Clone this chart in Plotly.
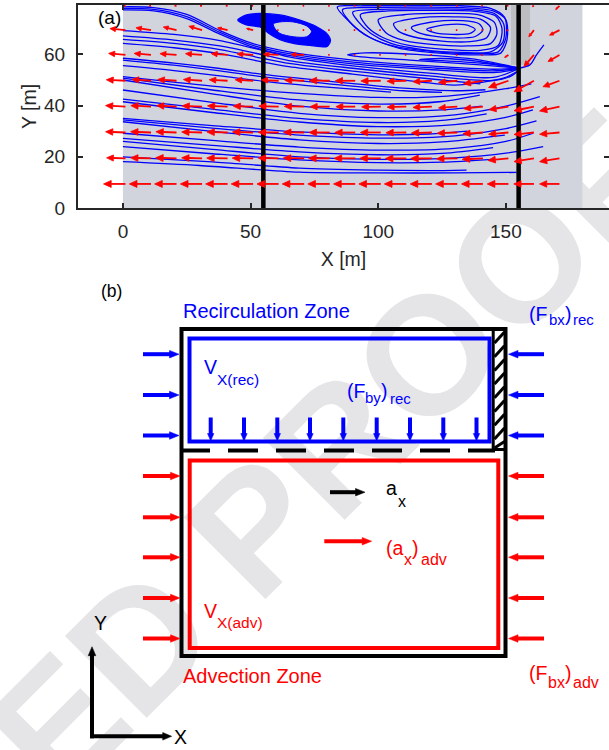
import math
import plotly.graph_objects as go

# ---------------- panel (a): velocity field ----------------
X_RANGE = [-17.6, 190.4]
Y_RANGE = [0, 79.3]
x_ticks = [0, 50, 100, 150]
y_ticks = [0, 20, 40, 60]

reach_x = [0, 180]                 # shaded reach
strip_x = [152.0, 159.5]           # darker strip near the downstream section
strip_y = [56.0, 79.3]
section_x = [55, 155]              # cross-sections

# quiver grid and components
quiver_x = [1, 11, 21, 31, 41, 51, 61, 71, 81, 91, 101, 111, 121, 131, 141, 151, 161, 171]
quiver_y = [9.4, 19.4, 29.5, 39.6, 49.7, 59.8, 69.5, 79.0]
quiver_u = [
    [-8.6, -8.5, -8.6, -8.5, -8.6, -8.6, -8.5, -8.6, -8.6, -8.5, -8.6, -8.6, -8.5, -8.5, -8.4, -8.3, -7.9, -7.8],
    [-7.4, -8.0, -8.2, -8.0, -8.2, -8.2, -8.0, -8.2, -8.3, -8.3, -8.2, -8.2, -8.3, -8.2, -8.1, -8.0, -7.8, -7.8],
    [-7.8, -8.0, -8.1, -8.0, -8.1, -8.1, -8.0, -8.1, -8.1, -8.0, -8.0, -8.0, -8.0, -7.9, -7.8, -7.8, -7.8, -7.8],
    [-7.8, -7.9, -7.8, -7.8, -7.9, -7.8, -7.8, -7.8, -7.7, -7.6, -7.5, -7.5, -7.4, -7.4, -7.5, -7.6, -7.8, -7.8],
    [-7.5, -7.5, -7.4, -7.3, -7.2, -7.0, -6.8, -7.6, -8.0, -7.8, -7.8, -7.6, -7.4, -7.4, -7.6, -7.8, -7.8, -6.5],
    [-6.6, -6.6, -6.5, -6.5, -6.4, -6.3, -6.0, -5.2, -0.6, -0.6, -0.6, -0.6, -0.6, -0.6, -0.7, -1.5, -3.9, -4.5],
    [-6.1, -5.9, -5.2, -5.2, -3.9, -2.6, -0.6, -0.6, -0.6, -0.6, -0.6, -0.6, -0.6, -0.6, -0.6, -0.7, -2.0, -3.9],
    [-0.6, -0.7, -0.8, -0.8, -0.7, -0.6, -0.6, -0.6, -0.6, -0.6, -0.6, -0.6, -0.6, -0.6, -0.6, -0.6, -0.7, -1.5],
]
quiver_v = [
    [0.0, 0.0, 0.0, 0.0, 0.0, 0.0, 0.0, 0.0, 0.0, 0.0, 0.0, 0.0, 0.0, 0.0, 0.0, 0.0, 0.0, 0.0],
    [0.2, 0.2, 0.2, 0.2, 0.1, 0.1, 0.1, 0.1, 0.0, 0.0, 0.0, -0.1, -0.1, -0.2, -0.4, -0.8, -1.3, -1.3],
    [0.3, 0.3, 0.3, 0.2, 0.2, 0.2, 0.1, 0.1, 0.0, 0.0, 0.0, -0.1, -0.2, -0.3, -0.5, -0.7, -0.8, -0.7],
    [0.4, 0.4, 0.4, 0.3, 0.3, 0.2, 0.2, 0.1, 0.0, 0.0, -0.1, -0.2, -0.3, -0.5, -0.8, -1.2, -1.6, -1.7],
    [0.4, 0.5, 0.5, 0.5, 0.4, 0.4, 0.3, 0.2, 0.1, 0.0, -0.1, -0.2, -0.4, -0.7, -1.2, -2.6, -4.3, -2.3],
    [0.6, 0.6, 0.5, 0.5, 0.5, 0.4, 0.3, 0.2, 0.0, 0.0, 0.0, 0.0, 0.0, 0.0, -0.1, -1.0, -4.5, -2.6],
    [0.6, 0.9, 1.2, 1.5, 0.9, 0.6, 0.0, 0.0, 0.0, 0.0, 0.0, 0.0, 0.0, 0.0, 0.0, -0.2, -2.6, -2.0],
    [0.0, 0.0, 0.0, 0.0, 0.0, 0.0, 0.0, 0.0, 0.0, 0.0, 0.0, 0.0, 0.0, 0.0, 0.0, 0.0, -0.3, -1.5],
]

# streamlines through the lower (advection) part of the reach
lower_streams = [
    ([0, 30, 69, 100, 130, 154.2], [18.1, 16.6, 14.0, 13.7, 13.7, 13.9]),
    ([0, 35, 69, 100, 120, 134.6], [20.0, 18.0, 15.6, 14.8, 14.6, 14.8]),
    ([0, 35, 69, 100, 125, 145], [24.0, 21.2, 18.8, 17.7, 17.9, 19.0]),
    ([0, 35, 69, 100, 130, 150, 164.6], [26.0, 22.9, 20.0, 19.0, 19.6, 21.4, 24.0]),
    ([0, 35, 69, 100, 125, 145], [27.2, 24.5, 21.9, 20.8, 21.3, 23.6]),
    ([0, 35, 69, 100, 130, 150, 160.7], [29.2, 26.4, 23.8, 22.6, 23.3, 26.0, 29.2]),
    ([0, 35, 69, 100, 125, 149.6], [33.7, 29.9, 26.6, 25.2, 25.8, 28.5]),
    ([0, 35, 69, 100, 130, 150, 162], [34.4, 31.2, 28.5, 27.3, 28.2, 31.0, 34.0]),
    ([0, 35, 69, 100, 120, 135], [35.0, 32.2, 29.7, 28.6, 28.9, 30.0]),
    ([0, 35, 69, 100, 130, 150, 160.6], [41.5, 37.3, 33.6, 31.8, 32.6, 35.4, 38.3]),
    ([0, 35, 69, 100, 125, 142.5], [42.5, 38.6, 35.0, 33.4, 34.2, 36.8]),
    ([0, 35, 69, 100, 130, 150, 163.3], [46.1, 41.3, 37.0, 35.3, 36.4, 39.8, 43.5]),
    ([0, 35, 69, 100, 125, 140.5], [50.0, 44.6, 39.8, 37.9, 38.3, 39.8]),
    ([0, 35, 69, 100, 125, 139.8], [50.7, 46.1, 42.2, 40.6, 41.6, 44.1]),
    ([0, 35, 69, 100, 120, 135, 150, 160], [51.3, 47.6, 44.8, 43.2, 43.3, 44.5, 46.6, 48.5]),
]

# streamlines of the middle band, converging toward the downstream section
middle_streams = [
    ([0, 20, 38, 55, 65, 90, 120, 145, 155], [69.3, 67.8, 65.4, 61.5, 59.0, 55.5, 52.7, 51.0, 54.4]),
    ([0, 20, 38, 55, 65, 90, 120, 145, 152, 155.5], [67.2, 65.6, 63.3, 59.8, 57.6, 54.6, 51.6, 49.8, 51.5, 54.2]),
    ([0, 20, 38, 55, 65, 90, 120, 140], [65.9, 64.3, 61.9, 58.4, 56.5, 53.5, 50.5, 48.5]),
    ([0, 20, 38, 55, 65, 90, 116, 130, 149, 154.2], [64.3, 62.6, 60.3, 57.0, 55.2, 52.3, 49.3, 48.0, 50.7, 53.2]),
    ([0, 20, 38, 55, 80, 110, 130, 142], [58.5, 56.6, 54.5, 52.2, 49.6, 46.8, 45.8, 46.2]),
    ([0, 20, 38, 55, 80, 110, 125], [57.8, 55.8, 53.6, 51.2, 48.6, 45.8, 45.2]),
    ([0, 20, 38, 55, 80, 105], [55.6, 53.7, 51.6, 49.5, 47.2, 45.3]),
]

# streamlines entering along the upper boundary
top_streams = [
    ([0, 12, 25, 38, 51, 65, 90, 120, 145, 154.5], [78.6, 78.3, 75.6, 69.3, 64.2, 61.0, 57.8, 55.5, 54.2, 54.6]),
    ([0, 12, 25, 38, 51, 65, 90, 120, 145, 154.3], [78.0, 77.6, 74.8, 68.6, 63.5, 60.3, 57.0, 54.8, 53.6, 54.4]),
    ([0, 12, 25, 38, 51, 65, 90, 120, 145, 154], [77.4, 77.0, 74.0, 67.9, 62.8, 59.6, 56.3, 54.1, 52.9, 54.1]),
]

# hairpin streamlines leaving the separation point, and the one leaving it downstream
hairpin_streams = [
    ([154.5, 140, 115, 95, 88, 95, 115, 140, 154], [54.8, 57.8, 60.0, 60.6, 59.8, 58.9, 57.6, 55.9, 54.7]),
    ([154.5, 140, 125, 116, 125, 140, 154.3], [54.8, 57.2, 58.4, 58.0, 57.6, 56.6, 54.8]),
    ([154.8, 159.4, 162.0, 164.9], [54.6, 55.9, 59.8, 63.7]),
]

# closed loops of the downstream recirculation cell
eddy2_loops = [
    ([84, 94, 114, 132, 144, 149.5, 150, 147, 139, 123, 107, 96, 89, 84],
     [78.5, 79.0, 79.1, 79.0, 78.0, 74.5, 66.5, 61.0, 60.3, 61.0, 63.0, 67.0, 72.5, 78.5]),
    ([86, 96, 115, 133, 145, 150, 150.5, 148, 140, 124, 108, 97, 90, 86],
     [77.5, 78.3, 78.5, 78.3, 77.0, 73.5, 66.0, 60.5, 59.8, 60.5, 62.5, 66.5, 71.5, 77.5]),
    ([90, 100, 118, 135, 145.5, 149.2, 148.8, 144, 133, 118, 105, 97, 92, 90],
     [76.5, 77.6, 77.8, 77.6, 76.0, 71.8, 64.8, 61.0, 60.8, 61.8, 64.3, 68.3, 73.0, 76.5]),
    ([93, 104, 120, 136, 146, 148.5, 147, 140, 126, 112, 102, 96, 93],
     [75.5, 77.0, 77.2, 77.0, 75.0, 70.0, 63.5, 61.6, 62.0, 63.5, 66.5, 70.5, 75.5]),
    ([100, 110, 125, 139, 145.5, 146.5, 144, 135, 122, 110, 103, 100],
     [73.5, 75.5, 76.0, 75.5, 72.5, 68.0, 64.2, 63.3, 63.8, 65.5, 68.5, 73.5]),
    ([106, 116, 130, 140, 144, 142.5, 136, 125, 114, 108, 106],
     [72.0, 74.3, 74.7, 73.8, 70.5, 66.5, 65.0, 65.2, 66.8, 69.0, 72.0]),
    ([113, 122, 133, 139.5, 141, 138, 130, 121, 115, 113],
     [70.5, 72.8, 73.2, 72.0, 69.5, 67.0, 66.4, 67.2, 68.8, 70.5]),
    ([119, 126, 134, 138, 136, 129, 122, 119],
     [69.8, 71.5, 71.6, 69.8, 68.2, 67.8, 68.5, 69.8]),
]

# dense upstream recirculation cell: outer envelope and open core
eddy1_x = [45.0, 48.4, 53.7, 61.5, 69.3, 75.9, 79.8, 81.3, 80.5, 79.8, 73.2, 66.7, 61.5, 57.5, 53.7, 48.4, 45.0]
eddy1_y = [73.4, 75.4, 76.0, 75.4, 73.4, 70.8, 68.2, 65.5, 63.6, 63.0, 63.5, 64.3, 65.8, 68.0, 70.7, 71.5, 73.4]
core1_x = [58.9, 61.5, 66.7, 72.0, 73.9, 72.0, 66.7, 61.5, 59.5, 58.9]
core1_y = [71.9, 72.7, 72.7, 71.1, 68.9, 66.9, 66.9, 68.2, 70.2, 71.9]

REACH_GRAY = "rgb(209,212,221)"
STRIP_GRAY = "rgb(189,190,194)"
BLUE = "#0000ff"
RED = "#ff0000"
AXIS_INK = "#262626"
FONT = "Liberation Sans, Arial, Helvetica, sans-serif"

fig = go.Figure()

stream_line = dict(color=BLUE, width=1.3, shape="spline", smoothing=0.8)
for xs, ys in lower_streams + middle_streams + top_streams + hairpin_streams + eddy2_loops:
    fig.add_trace(go.Scatter(x=xs, y=ys, mode="lines", line=stream_line, hoverinfo="skip"))

fig.add_trace(go.Scatter(x=eddy1_x, y=eddy1_y, mode="lines", fill="toself", fillcolor=BLUE,
                         line=dict(color=BLUE, width=1.3, shape="spline", smoothing=0.8), hoverinfo="skip"))
fig.add_trace(go.Scatter(x=core1_x, y=core1_y, mode="lines", fill="toself", fillcolor=REACH_GRAY,
                         line=dict(color=BLUE, width=1.0, shape="spline", smoothing=0.8), hoverinfo="skip"))

# cross-section lines
for sx in section_x:
    fig.add_trace(go.Scatter(x=[sx, sx], y=Y_RANGE, mode="lines",
                             line=dict(color="black", width=4.5), hoverinfo="skip"))

# quiver arrows: shafts, then filled heads
qx, qy, hx, hy = [], [], [], []
for j, y0 in enumerate(quiver_y):
    for i, x0 in enumerate(quiver_x):
        u, v = quiver_u[j][i], quiver_v[j][i]
        length = math.hypot(u, v)
        x1, y1 = x0 + u, y0 + v
        if length > 1.2:
            ux, uy = u / length, v / length
            hl = min(0.36 * length, 3.0)
            hw = 0.45 * hl
            bx, by = x1 - ux * hl, y1 - uy * hl
            qx += [x0, bx, None]
            qy += [y0, by, None]
            hx += [x1, bx - uy * hw, bx + uy * hw, x1, None]
            hy += [y1, by + ux * hw, by - ux * hw, y1, None]
        else:
            qx += [x0, x1, None]
            qy += [y0, y1, None]
fig.add_trace(go.Scatter(x=qx, y=qy, mode="lines", line=dict(color=RED, width=1.8),
                         hoverinfo="skip"))
fig.add_trace(go.Scatter(x=hx, y=hy, mode="lines", fill="toself", fillcolor=RED,
                         line=dict(color=RED, width=0.8), hoverinfo="skip"))

# overlay axes in pixel units for the schematic
fig.add_trace(go.Scatter(x=[None], y=[None], xaxis="x2", yaxis="y2", hoverinfo="skip"))

shapes = []
# watermark under everything
wm_cx, wm_cy = -62 / 609, 1 - 822 / 750
shapes.append(dict(type="line", xref="paper", yref="paper", layer="below",
                   x0=wm_cx - 0.05, x1=wm_cx + 0.05, y0=wm_cy, y1=wm_cy,
                   line=dict(color="rgba(0,0,0,0)", width=0),
                   label=dict(text="<b>UNCORRECTED PROOF</b>", textangle=-45, textposition="middle",
                              xanchor="center", yanchor="middle", padding=0,
                              font=dict(family=FONT, size=168, color="rgb(229,229,232)"))))

shapes.append(dict(type="rect", xref="x", yref="y", layer="below",
                   x0=reach_x[0], x1=reach_x[1], y0=Y_RANGE[0], y1=Y_RANGE[1],
                   fillcolor=REACH_GRAY, line=dict(width=0)))
shapes.append(dict(type="rect", xref="x", yref="y", layer="below",
                   x0=strip_x[0], x1=strip_x[1], y0=strip_y[0], y1=strip_y[1],
                   fillcolor=STRIP_GRAY, line=dict(width=0)))


def px_line(x0, y0, x1, y1, color, width, dash=None):
    ln = dict(color=color, width=width)
    if dash:
        ln["dash"] = dash
    shapes.append(dict(type="line", xref="x2", yref="y2", x0=x0, y0=y0, x1=x1, y1=y1, line=ln))


def px_rect(x0, y0, x1, y1, color, width):
    shapes.append(dict(type="rect", xref="x2", yref="y2", x0=x0, y0=y0, x1=x1, y1=y1,
                       line=dict(color=color, width=width), fillcolor="rgba(0,0,0,0)"))


def px_arrow(x0, y0, x1, y1, color, width=4, head=9.5, half=3.8):
    dx, dy = x1 - x0, y1 - y0
    L = math.hypot(dx, dy)
    ux, uy = dx / L, dy / L
    bx, by = x1 - ux * head, y1 - uy * head
    px_line(x0, y0, bx + ux, by + uy, color, width)
    nx, ny = -uy * half, ux * half
    shapes.append(dict(type="path", xref="x2", yref="y2",
                       path=f"M {x1},{y1} L {bx + nx},{by + ny} L {bx - nx},{by - ny} Z",
                       fillcolor=color, line=dict(color=color, width=0.5)))


# boxes of the two zones
px_rect(181.5, 329, 505.5, 656, "black", 4)
px_rect(189.5, 338.5, 489.5, 441.5, BLUE, 4)
px_rect(189.7, 460.5, 498.3, 648, RED, 4)
px_line(180, 450.5, 495, 450.5, "black", 4, dash="30px,18px")
# hatched wall strip
px_rect(493.2, 329, 505.5, 449.5, "black", 3)
for k in range(9):
    yb = 343 + 13.7 * k
    px_line(494.5, min(yb, 448), 504.5, max(yb - 11, 330.5), "black", 3)

# boundary forces on the recirculation zone
for yy in [354.2, 395.0, 435.5]:
    px_arrow(143, yy, 179, yy, BLUE)
    px_arrow(544, yy, 508.5, yy, BLUE)
for xx in [210.7, 244.0, 277.3, 310.0, 343.3, 376.7, 410.0, 443.3, 476.5]:
    px_arrow(xx, 417.5, xx, 441, BLUE, width=4, head=7.5, half=3.2)
# boundary forces on the advection zone
for yy in [476.0, 517.3, 557.3, 598.0, 638.5]:
    px_arrow(143, yy, 180, yy, RED)
    px_arrow(544, yy, 508.5, yy, RED)
# accelerations
px_arrow(330, 492.2, 365, 492.2, "black")
px_arrow(324.3, 541.2, 371.7, 541.2, RED)
# coordinate axes
px_arrow(92, 738.3, 92, 646.7, "black", head=9, half=3.8)
px_arrow(90, 736.3, 171.7, 736.3, "black", head=9, half=3.8)

annotations = []


def px_text(s, x, baseline, size, color):
    annotations.append(dict(text=s, xref="x2", yref="y2", x=x, y=baseline - 0.3465 * size,
                            xanchor="left", yanchor="middle", showarrow=False, borderpad=0,
                            font=dict(family=FONT, size=size, color=color)))


px_text("(a)", 97, 23.8, 19, "black")
px_text("(b)", 100, 297.5, 17.5, "black")
px_text("Recirculation Zone", 182, 318, 20, BLUE)
px_text("(F", 528, 321, 19.5, BLUE)
px_text("bx", 547.5, 325, 15, BLUE)
px_text(")", 563.5, 321, 19.5, BLUE)
px_text("rec", 571.5, 325, 15, BLUE)
px_text("V", 203, 374, 19.5, BLUE)
px_text("X(rec)", 215.5, 384.5, 15.5, BLUE)
px_text("(F", 346, 398, 19.5, BLUE)
px_text("by", 364, 402.5, 15, BLUE)
px_text(")", 380, 398, 19.5, BLUE)
px_text("rec", 389, 404, 15, BLUE)
px_text("a", 385, 495, 19.5, "black")
px_text("x", 396.5, 507, 16, "black")
px_text("(a", 385, 555, 19.5, RED)
px_text("x", 402.5, 565, 16, RED)
px_text(")", 411, 555, 19.5, RED)
px_text("adv", 420, 565, 16, RED)
px_text("V", 203, 618, 19.5, RED)
px_text("X(adv)", 215.5, 628, 15.5, RED)
px_text("Advection Zone", 182, 683, 20, RED)
px_text("(F", 528, 680, 19.5, RED)
px_text("bx", 546.5, 688, 16, RED)
px_text(")", 563.5, 680, 19.5, RED)
px_text("adv", 572, 688, 16, RED)
px_text("Y", 92.5, 630, 19.5, "black")
px_text("X", 173, 744, 19.5, "black")

axis_common = dict(showgrid=False, zeroline=False, showline=True, linecolor=AXIS_INK, linewidth=2,
                   mirror="ticks", ticks="inside", ticklen=5, tickwidth=1.5, tickcolor=AXIS_INK,
                   tickfont=dict(family=FONT, size=19, color=AXIS_INK), fixedrange=True,
                   automargin=False)

fig.update_layout(
    template="none",
    width=609, height=750, margin=dict(l=0, r=0, t=0, b=0, pad=0), autosize=False,
    paper_bgcolor="white", plot_bgcolor="rgba(0,0,0,0)", showlegend=False,
    xaxis=dict(domain=[78 / 609, 1.0], range=X_RANGE, tickvals=x_ticks, ticklabelstandoff=5,
               title=dict(text="X [m]", standoff=12, font=dict(family=FONT, size=19.5, color=AXIS_INK)),
               **axis_common),
    yaxis=dict(domain=[1 - 208 / 750, 1 - 5 / 750], range=Y_RANGE, tickvals=y_ticks, ticklabelstandoff=7,
               title=dict(text="Y [m]", standoff=2, font=dict(family=FONT, size=19.5, color=AXIS_INK)),
               **axis_common),
    xaxis2=dict(domain=[0, 1], range=[0, 609], visible=False, anchor="y2", fixedrange=True,
                automargin=False),
    yaxis2=dict(domain=[0, 1], range=[750, 0], visible=False, anchor="x2", fixedrange=True,
                automargin=False),
    shapes=shapes,
    annotations=annotations,
)

fig.write_html("out.html")
